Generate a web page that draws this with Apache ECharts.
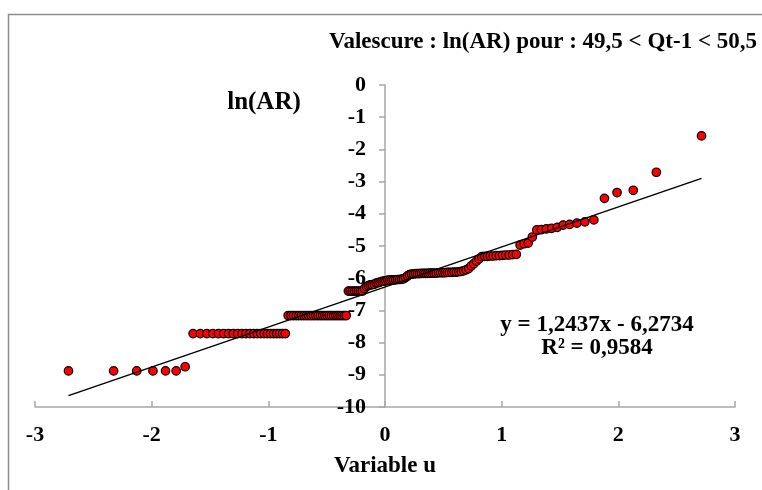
<!DOCTYPE html>
<html>
<head>
<meta charset="utf-8">
<script src="https://cdn.jsdelivr.net/npm/echarts@6/dist/echarts.min.js"></script>
<style>html,body{margin:0;padding:0;background:#fff;}#c{width:762px;height:490px;}</style>
</head>
<body>
<div id="c"></div>
<script>
// Normal quantile variable u
var uValues = [
-2.713,-2.326,-2.128,-1.989,-1.881,-1.790,-1.713,-1.645,-1.583,-1.527,
-1.476,-1.428,-1.383,-1.341,-1.301,-1.263,-1.227,-1.192,-1.158,-1.126,
-1.095,-1.065,-1.036,-1.008,-0.981,-0.954,-0.928,-0.903,-0.878,-0.854,
-0.830,-0.806,-0.784,-0.761,-0.739,-0.717,-0.695,-0.674,-0.654,-0.633,
-0.613,-0.593,-0.573,-0.553,-0.534,-0.515,-0.496,-0.477,-0.459,-0.440,
-0.421,-0.403,-0.385,-0.367,-0.349,-0.332,-0.314,-0.297,-0.279,-0.262,
-0.245,-0.228,-0.210,-0.193,-0.176,-0.159,-0.143,-0.126,-0.109,-0.092,
-0.075,-0.059,-0.042,-0.025,-0.008,
0.008,0.025,0.042,0.059,0.075,0.092,0.109,0.126,0.143,0.159,
0.176,0.193,0.210,0.228,0.245,0.262,0.279,0.297,0.314,0.332,
0.349,0.367,0.385,0.403,0.421,0.440,0.459,0.477,0.496,0.515,
0.534,0.553,0.573,0.593,0.613,0.633,0.654,0.674,0.695,0.717,
0.739,0.761,0.784,0.806,0.830,0.854,0.878,0.903,0.928,0.954,
0.981,1.008,1.036,1.065,1.095,1.126,1.158,1.192,1.227,1.263,
1.301,1.341,1.383,1.428,1.476,1.527,1.583,1.645,1.713,1.790,
1.881,1.989,2.128,2.326,2.713
];
// ln(AR) values
var lnAR = [
-8.88,-8.88,-8.88,-8.88,-8.88,-8.88,-8.75,
-7.72,-7.72,-7.72,-7.72,-7.72,-7.72,-7.72,-7.72,-7.72,-7.72,-7.72,-7.72,
-7.72,-7.72,-7.72,-7.72,-7.72,-7.72,-7.72,-7.72,-7.72,-7.72,-7.72,
-7.16,-7.16,-7.16,-7.16,-7.16,-7.16,-7.16,-7.16,-7.16,-7.16,-7.16,-7.16,-7.16,
-7.16,-7.16,-7.16,-7.16,-7.16,-7.16,-7.16,-7.16,-7.16,-7.16,-7.16,-7.16,-7.16,
-6.40,-6.40,-6.40,-6.40,-6.40,-6.40,-6.40,-6.40,
-6.32,-6.26,-6.23,-6.21,-6.20,-6.19,
-6.15,-6.14,-6.12,-6.10,-6.09,-6.08,
-6.06,-6.06,-6.05,-6.05,-6.05,-6.04,-6.04,-6.03,-6.02,
-5.98,-5.93,-5.89,
-5.87,-5.87,-5.86,-5.86,-5.86,-5.85,-5.85,-5.85,-5.85,-5.84,-5.84,-5.84,
-5.84,-5.83,-5.83,-5.83,-5.83,-5.82,-5.82,-5.82,-5.81,-5.81,-5.80,-5.79,
-5.77,-5.74,-5.70,-5.62,-5.55,-5.47,-5.40,
-5.33,-5.32,-5.32,-5.31,-5.31,-5.30,-5.30,-5.29,-5.28,-5.28,-5.27,-5.26,
-4.97,-4.93,-4.91,
-4.72,-4.50,-4.49,-4.47,-4.45,-4.42,-4.35,-4.33,-4.29,-4.25,-4.19,
-3.52,-3.34,-3.27,-2.71,-1.58
];
// Trend line coefficients (from the equation printed on the chart)
var trendCoef = [1.2437, -6.2734];
var xTicks = [-3, -2, -1, 0, 1, 2, 3];
var yTicks = [-10, -9, -8, -7, -6, -5, -4, -3, -2, -1, 0];

var FONT = '"Liberation Serif", "Times New Roman", serif';
var GRID_LEFT = 35;
var points = uValues.map(function (u, i) { return [u, lnAR[i]]; });
var uMin = Math.min.apply(null, uValues), uMax = Math.max.apply(null, uValues);
var trend = [[uMin, trendCoef[0] * uMin + trendCoef[1]], [uMax, trendCoef[0] * uMax + trendCoef[1]]];

var chart = echarts.init(document.getElementById('c'), null, {renderer: 'canvas'});
var axisGray = '#a6a6a6';
chart.setOption({
  animation: false,
  backgroundColor: '#fff',
  grid: {left: GRID_LEFT, right: 27, top: 85, bottom: 83, containLabel: false, outerBoundsMode: 'none'},
  xAxis: {
    type: 'value', min: xTicks[0], max: xTicks[xTicks.length - 1], interval: 1,
    axisLine: {onZero: false, lineStyle: {color: axisGray, width: 1.5}},
    axisTick: {inside: true, length: 6, lineStyle: {color: axisGray, width: 1.5}},
    axisLabel: {fontFamily: FONT, fontWeight: 'bold', fontSize: 22, color: '#000', margin: 17},
    splitLine: {show: false}
  },
  yAxis: {
    type: 'value', min: yTicks[0], max: yTicks[yTicks.length - 1], interval: 1,
    axisLine: {show: true, onZero: false, lineStyle: {color: axisGray, width: 1.5}},
    axisTick: {show: true, inside: false, length: 6, lineStyle: {color: axisGray, width: 1.5}},
    axisLabel: {fontFamily: FONT, fontWeight: 'bold', fontSize: 22, color: '#000', margin: 19},
    splitLine: {show: false}
  },
  graphic: [
    {type: 'rect', silent: true, z: -10, shape: {x: 8.5, y: 14.5, width: 900, height: 600}, style: {fill: 'none', stroke: '#8c8c8c', lineWidth: 1.5}},
    {type: 'text', style: {text: 'Valescure : ln(AR) pour : 49,5 < Qt-1 < 50,5', x: 757, y: 42, textAlign: 'right', textVerticalAlign: 'middle', font: 'bold 23px ' + FONT, fill: '#000'}},
    {type: 'text', style: {text: 'ln(AR)', x: 264, y: 103, textAlign: 'center', textVerticalAlign: 'middle', font: 'bold 25px ' + FONT, fill: '#000'}},
    {type: 'text', style: {text: 'Variable u', x: 385, y: 466, textAlign: 'center', textVerticalAlign: 'middle', font: 'bold 23px ' + FONT, fill: '#000'}},
    {type: 'text', style: {text: 'y = 1,2437x - 6,2734', x: 597, y: 325, textAlign: 'center', textVerticalAlign: 'middle', font: 'bold 23px ' + FONT, fill: '#000'}},
    {type: 'text', style: {text: 'R² = 0,9584', x: 597, y: 348, textAlign: 'center', textVerticalAlign: 'middle', font: 'bold 23px ' + FONT, fill: '#000'}}
  ],
  series: [
    {
      type: 'scatter', data: points, symbol: 'circle', symbolSize: 8.5, z: 2,
      itemStyle: {color: '#ff0000', borderColor: '#000', borderWidth: 1.2, opacity: 1}
    },
    {
      type: 'line', data: trend, symbol: 'none', z: 3, silent: true,
      lineStyle: {color: '#000', width: 1.5}
    }
  ]
});
// Move the vertical axis to cross the horizontal one at u = 0
var zeroX = chart.convertToPixel({xAxisIndex: 0}, 0);
chart.setOption({yAxis: {offset: GRID_LEFT - zeroX}});
</script>
</body>
</html>
